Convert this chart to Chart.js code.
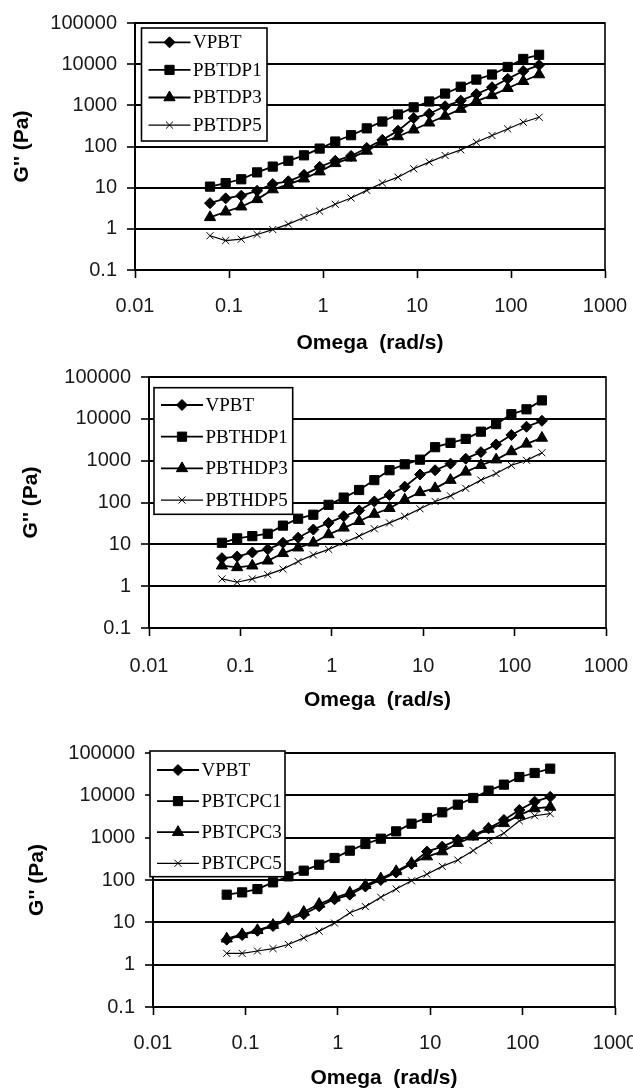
<!DOCTYPE html>
<html>
<head>
<meta charset="utf-8">
<script src="https://cdn.jsdelivr.net/npm/chart.js"></script>
<style>
  html, body { margin: 0; padding: 0; background: #fff; }
  #page { position: relative; width: 633px; height: 1089px; overflow: hidden; }
  #page canvas { position: absolute; left: 0; }
</style>
</head>
<body>
<div id="page">
  <canvas id="c1" width="633" height="362" style="top:0px"></canvas>
  <canvas id="c2" width="633" height="362" style="top:362px"></canvas>
  <canvas id="c3" width="633" height="364" style="top:725px"></canvas>
</div>
<script>
// frequency sweep, rad/s
var omega = [0.0628, 0.0922, 0.135, 0.199, 0.292, 0.428, 0.628, 0.922, 1.35, 1.99, 2.92,
             4.28, 6.28, 9.22, 13.5, 19.9, 29.2, 42.8, 62.8, 92.2, 135, 199];
var xTickLabels = ['0.01', '0.1', '1', '10', '100', '1000'];
var yTickLabels = ['0.1', '1', '10', '100', '1000', '10000', '100000'];

// top chart
var names1 = ['VPBT', 'PBTDP1', 'PBTDP3', 'PBTDP5'];
var vpbt1   = [4.2, 5.5, 6.4, 8.4, 12.3, 14.3, 20.5, 32, 45, 59, 92, 145, 242, 490, 625, 950, 1300, 1870, 2750, 4400, 6800, 9500];
var pbtdp1  = [10.6, 12.9, 16, 23.5, 32.5, 45, 61, 89, 132, 188, 276, 404, 600, 895, 1240, 1930, 2830, 4220, 5600, 8550, 13400, 16900];
var pbtdp3  = [1.9, 2.6, 3.45, 5.2, 9, 12, 16.5, 24.5, 39, 53, 78, 129, 175, 255, 377, 550, 810, 1265, 1745, 2600, 3840, 5600];
var pbtdp5  = [0.68, 0.52, 0.56, 0.73, 0.96, 1.3, 1.88, 2.67, 3.95, 5.6, 8.6, 13, 18, 28.8, 41.8, 60.5, 83, 127, 185, 267, 388, 513];

// middle chart
var names2 = ['VPBT', 'PBTHDP1', 'PBTHDP3', 'PBTHDP5'];
var vpbt2   = [4.67, 5.1, 6.4, 7.6, 10.9, 14.4, 22.6, 32.5, 46.7, 64.7, 106, 152, 239, 467, 591, 849, 1115, 1600, 2430, 4110, 6470, 8980];
var pbthdp1 = [10.9, 13.9, 15.7, 17.9, 28, 41, 51, 88, 131, 199, 343, 591, 819, 1057, 2100, 2660, 3310, 4930, 7480, 12900, 16900, 27600];
var pbthdp3 = [3.08, 2.81, 3.08, 4.04, 6.1, 8.3, 10.9, 17.2, 24.8, 35.6, 53, 73, 116, 175, 218, 343, 540, 776, 1057, 1660, 2520, 3490];
var pbthdp5 = [1.49, 1.24, 1.49, 1.89, 2.56, 3.9, 5.6, 7.6, 10.9, 15.7, 23.5, 32.5, 46.7, 70.8, 106, 144, 218, 343, 493, 776, 1019, 1545];

// bottom chart
var names3 = ['VPBT', 'PBTCPC1', 'PBTCPC3', 'PBTCPC5'];
var vpbt3   = [3.9, 5.0, 6.3, 8.2, 11.5, 15.5, 24, 35, 45, 70, 100, 150, 240, 470, 615, 890, 1150, 1660, 2620, 4500, 7100, 9200];
var pbtcpc1 = [45, 51, 61, 88, 122, 166, 230, 331, 493, 709, 946, 1410, 2140, 2920, 3970, 6020, 8650, 12900, 17900, 27100, 33700, 42700];
var pbtcpc3 = [4.1, 5.2, 6.5, 8.6, 12.5, 17.5, 27, 38, 50, 75, 108, 160, 250, 357, 470, 740, 1050, 1600, 2180, 3400, 4900, 5300];
var pbtcpc5 = [1.85, 1.85, 2.1, 2.4, 3.0, 4.3, 6.2, 9.6, 16.8, 23.5, 39, 61, 96, 137, 210, 296, 495, 850, 1275, 2500, 3300, 3700];

var markers = ['rectRot', 'rect', 'triangle', 'crossRot'];
var markerSize = [5.5, 6.5, 6.5, 5];

function drawMarker(ctx, style, r, x, y) {
  ctx.beginPath();
  if (style === 'rect') {
    var s = r * Math.SQRT1_2;
    ctx.rect(x - s, y - s, 2 * s, 2 * s);
  } else if (style === 'rectRot') {
    ctx.moveTo(x - r, y); ctx.lineTo(x, y - r); ctx.lineTo(x + r, y); ctx.lineTo(x, y + r);
    ctx.closePath();
  } else if (style === 'triangle') {
    ctx.moveTo(x, y - r);
    ctx.lineTo(x + r * 0.866, y + r / 2);
    ctx.lineTo(x - r * 0.866, y + r / 2);
    ctx.closePath();
  } else {
    var o = r * Math.SQRT1_2;
    ctx.moveTo(x - o, y - o); ctx.lineTo(x + o, y + o);
    ctx.moveTo(x + o, y - o); ctx.lineTo(x - o, y + o);
    ctx.stroke();
    return;
  }
  ctx.fill();
  ctx.stroke();
}

function makeChart(id, lay, names, series) {
  var datasets = series.map(function (vals, i) {
    return {
      label: names[i],
      data: omega.map(function (w, k) { return {x: w, y: vals[k]}; }),
      borderColor: '#000',
      backgroundColor: '#000',
      borderWidth: i === 3 ? 1.2 : 1.8,
      pointStyle: markers[i],
      pointRadius: markerSize[i],
      pointBorderWidth: 1,
      pointBackgroundColor: '#000',
      pointBorderColor: '#000',
      tension: 0
    };
  });

  // plot frame + boxed legend inside the plot
  var boxPlugin = {
    id: 'boxLegend',
    beforeDatasetsDraw: function (chart) {
      var a = chart.chartArea, ctx = chart.ctx;
      ctx.save();
      ctx.strokeStyle = '#000';
      ctx.lineWidth = 1.6;
      ctx.strokeRect(a.left, a.top, a.right - a.left, a.bottom - a.top);
      ctx.restore();
    },
    afterDraw: function (chart) {
      var a = chart.chartArea, ctx = chart.ctx, lg = lay.legend;
      var bx = a.left + lg.dx, by = a.top + lg.dy;
      ctx.save();
      ctx.fillStyle = '#fff';
      ctx.fillRect(bx, by, lg.w, lg.h);
      ctx.strokeStyle = '#000';
      ctx.lineWidth = 1.6;
      ctx.strokeRect(bx, by, lg.w, lg.h);
      ctx.font = '19px "Liberation Serif", "Times New Roman", serif';
      ctx.textBaseline = 'middle';
      chart.data.datasets.forEach(function (ds, i) {
        var y = by + lg.first + i * lg.pitch;
        ctx.strokeStyle = '#000';
        ctx.fillStyle = '#000';
        ctx.lineWidth = ds.borderWidth;
        ctx.beginPath();
        ctx.moveTo(bx + 7, y);
        ctx.lineTo(bx + 49, y);
        ctx.stroke();
        ctx.lineWidth = 1;
        drawMarker(ctx, ds.pointStyle, ds.pointRadius, bx + 28, y);
        ctx.fillText(ds.label, bx + 51.5, y + 1);
      });
      ctx.restore();
    }
  };

  var tickFont = {family: '"Liberation Sans", Arial, sans-serif', size: 20};
  var titleFont = {family: '"Liberation Sans", Arial, sans-serif', size: 21, weight: 'bold', lineHeight: 1};

  return new Chart(document.getElementById(id), {
    type: 'line',
    data: {datasets: datasets},
    plugins: [boxPlugin],
    options: {
      responsive: false,
      animation: false,
      devicePixelRatio: 1,
      layout: {padding: {left: 0, bottom: 0, top: lay.plotTop - lay.top, right: 633 - lay.plotRight}},
      plugins: {legend: {display: false}, tooltip: {enabled: false}},
      scales: {
        x: {
          type: 'logarithmic',
          min: 0.01,
          max: 1000,
          afterBuildTicks: function (scale) {
            scale.ticks = xTickLabels.map(function (t) { return {value: parseFloat(t)}; });
          },
          afterFit: function (scale) {
            scale.height = lay.height - (lay.plotBottom - lay.top);
            scale.paddingLeft = 0;
            scale.paddingRight = 0;
          },
          ticks: {
            autoSkip: false,
            maxRotation: 0,
            padding: lay.xLabelPad,
            color: '#1a1a1a',
            font: tickFont,
            callback: function (v, i) { return xTickLabels[i]; }
          },
          grid: {drawOnChartArea: false, drawTicks: true, tickLength: 8, tickColor: '#000', tickWidth: 1.6},
          border: {color: '#000', width: 2},
          title: {
            display: true,
            text: 'Omega  (rad/s)',
            color: '#000',
            font: titleFont,
            padding: {top: 0, bottom: (lay.top + lay.height - lay.xTitleY) - 10.5}
          }
        },
        y: {
          type: 'logarithmic',
          min: 0.1,
          max: 100000,
          afterBuildTicks: function (scale) {
            scale.ticks = yTickLabels.map(function (t) { return {value: parseFloat(t)}; });
          },
          afterFit: function (scale) {
            scale.width = lay.plotLeft;
            scale.paddingTop = 0;
            scale.paddingBottom = 0;
          },
          ticks: {
            autoSkip: false,
            padding: 10,
            color: '#1a1a1a',
            font: tickFont,
            callback: function (v, i) { return yTickLabels[i]; }
          },
          grid: {color: '#000', lineWidth: 2, drawTicks: true, tickLength: 8, tickColor: '#000', tickWidth: 1.6},
          border: {color: '#000', width: 2},
          title: {
            display: true,
            text: "G'' (Pa)",
            color: '#000',
            font: titleFont,
            padding: {top: lay.yTitleX - 10.5, bottom: 0}
          }
        }
      }
    }
  });
}

makeChart('c1', {
  top: 0, height: 362, plotLeft: 135, plotRight: 605, plotTop: 23, plotBottom: 270,
  yTitleX: 22, xLabelPad: 16, xTitleY: 343,
  legend: {dx: 6.5, dy: 5, w: 125.5, h: 113, first: 14.3, pitch: 27.6}
}, names1, [vpbt1, pbtdp1, pbtdp3, pbtdp5]);

makeChart('c2', {
  top: 362, height: 362, plotLeft: 149, plotRight: 606, plotTop: 377, plotBottom: 628,
  yTitleX: 31, xLabelPad: 18, xTitleY: 700,
  legend: {dx: 5, dy: 10.7, w: 138.7, h: 126.6, first: 17.3, pitch: 31.7}
}, names2, [vpbt2, pbthdp1, pbthdp3, pbthdp5]);

makeChart('c3', {
  top: 725, height: 364, plotLeft: 153, plotRight: 615, plotTop: 753, plotBottom: 1007,
  yTitleX: 37, xLabelPad: 16, xTitleY: 1078,
  legend: {dx: -3, dy: -2, w: 135, h: 125.7, first: 19, pitch: 31.1}
}, names3, [vpbt3, pbtcpc1, pbtcpc3, pbtcpc5]);
</script>
</body>
</html>
